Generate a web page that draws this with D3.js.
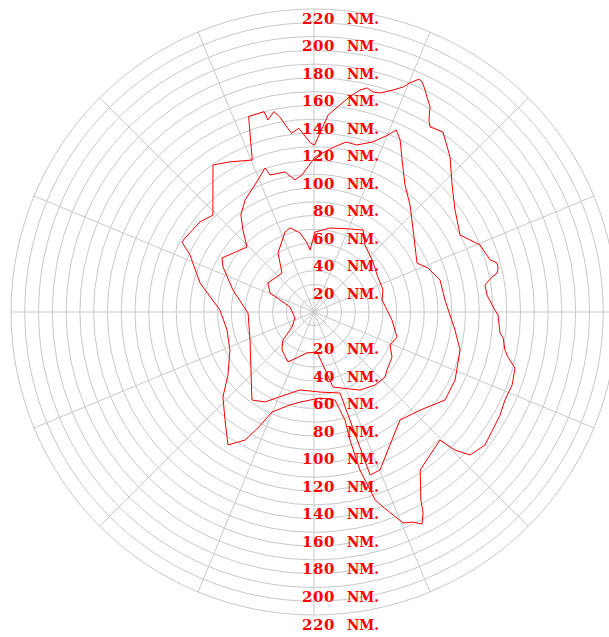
<!DOCTYPE html>
<html>
<head>
<meta charset="utf-8">
<script src="https://cdn.jsdelivr.net/npm/d3@7"></script>
<style>
  html, body { margin: 0; padding: 0; background: #ffffff; }
  svg { display: block; }
</style>
</head>
<body>
<svg id="chart" width="609" height="637"></svg>
<script>
// Range rings (NM) and labelled rings
const maxRange = 220;
const ringStep = 10;
const labelRanges = [20, 40, 60, 80, 100, 120, 140, 160, 180, 200, 220];
const unitText = "NM.";
const spokeStep = 22.5;

// Coverage contours: bearing (deg, clockwise from north) and range (NM), in drawing order
const outerBearing = [0.2, 4.1, 9.4, 11.7, 13.3, 15.0, 16.8, 19.6, 21.6, 22.7, 24.3, 25.2, 26.6, 27.7, 29.5, 30.9, 32.1, 35.6, 41.3, 47.4, 54.1, 62.2, 68.0, 73.5, 75.0, 76.6, 78.0, 78.9, 81.0, 84.4, 87.7, 89.4, 90.9, 96.4, 97.8, 101.3, 103.1, 105.6, 110.2, 114.7, 119.0, 122.0, 127.9, 132.5, 134.4, 135.5, 140.9, 146.1, 150.4, 151.5, 153.0, 154.8, 157.1, 158.7, 160.5, 162.0, 163.8, 164.3, 164.0, 166.6, 176.0, 188.8, 194.5, 202.8, 205.8, 208.3, 212.9, 219.5, 227.0, 233.8, 245.7, 258.3, 271.2, 284.3, 294.7, 297.9, 299.8, 308.3, 313.8, 325.5, 330.8, 337.9, 341.5, 346.0, 346.5, 348.7, 350.0, 352.8, 355.3, 358.9];
const outerRange = [121.3, 143.4, 158.5, 164.6, 167.2, 165.4, 166.1, 171.1, 175.7, 180.3, 185.6, 184.5, 180.2, 176.4, 171.1, 162.5, 158.6, 160.8, 149.7, 136.2, 126.4, 119.9, 130.0, 133.3, 137.6, 137.4, 135.9, 131.7, 125.7, 126.2, 129.4, 131.4, 133.6, 135.9, 138.6, 141.4, 144.6, 151.5, 153.3, 152.7, 154.4, 155.0, 157.3, 153.7, 143.3, 130.4, 133.7, 138.2, 157.1, 166.0, 172.8, 168.6, 166.3, 158.2, 150.2, 143.5, 119.5, 96.6, 81.6, 65.7, 62.6, 66.2, 69.7, 78.8, 93.5, 105.6, 115.0, 101.6, 90.4, 77.4, 67.0, 64.5, 68.3, 85.4, 99.1, 108.5, 108.0, 105.5, 101.7, 129.5, 124.9, 119.1, 149.6, 149.9, 143.4, 148.4, 144.0, 130.8, 133.8, 122.5];

const middleBearing = [0.4, 6.9, 10.7, 14.4, 19.1, 22.7, 24.3, 26.6, 30.1, 35.6, 41.9, 50.4, 64.6, 68.9, 75.7, 84.8, 97.3, 104.6, 115.7, 123.9, 132.8, 141.5, 150.3, 157.3, 161.0, 162.2, 175.7, 190.2, 199.3, 208.6, 215.2, 246.4, 269.1, 285.2, 296.3, 300.4, 314.1, 319.1, 323.0, 328.4, 337.0, 341.2, 342.2, 348.3, 351.8, 355.0];
const middleRange = [112.6, 120.7, 125.6, 125.2, 130.7, 139.3, 145.0, 139.7, 127.5, 113.5, 104.4, 93.4, 82.8, 88.7, 94.4, 95.5, 103.2, 109.6, 113.7, 114.6, 104.9, 100.3, 111.2, 124.3, 125.2, 61.8, 58.3, 57.5, 63.9, 74.4, 78.2, 50.7, 47.9, 61.0, 73.7, 77.5, 67.8, 78.8, 88.2, 95.5, 104.1, 110.5, 104.5, 103.8, 96.9, 99.9];

const innerBearing = [0.7, 10.8, 23.4, 30.9, 37.3, 49.7, 59.6, 72.3, 80.0, 88.4, 95.9, 106.8, 113.5, 120.0, 128.5, 132.5, 140.1, 149.5, 165.8, 175.7, 189.7, 207.5, 220.1, 228.0, 235.7, 252.5, 281.8, 293.4, 302.2, 320.6, 328.6, 340.1, 344.1, 350.0, 354.2, 356.3];
const innerRange = [58.1, 62.1, 65.7, 69.4, 61.1, 56.2, 53.1, 52.6, 50.2, 53.0, 56.9, 63.0, 60.2, 65.4, 67.7, 69.9, 69.1, 65.8, 56.2, 29.1, 30.2, 40.9, 36.1, 30.3, 19.3, 14.5, 17.8, 34.8, 39.5, 36.6, 50.2, 61.8, 63.5, 58.3, 50.4, 45.1];

const width = 609, height = 637;
const cx = 314, cy = 312, outerR = 303;

const svg = d3.select("#chart");
const g = svg.append("g").attr("transform", `translate(${cx},${cy})`);

const r = d3.scaleLinear().domain([0, maxRange]).range([0, outerR]);
const toRad = d => d * Math.PI / 180;

// grid: rings every 10 NM
const ringValues = d3.range(ringStep, maxRange + ringStep / 2, ringStep);
g.append("g").selectAll("circle")
  .data(ringValues)
  .join("circle")
  .attr("r", d => r(d))
  .attr("fill", "none")
  .attr("stroke", "#c8c8c8")
  .attr("stroke-width", 1);

// grid: spokes
const spokes = d3.range(0, 360, spokeStep);
g.append("g").selectAll("line")
  .data(spokes)
  .join("line")
  .attr("x1", 0).attr("y1", 0)
  .attr("x2", d => r(maxRange) * Math.sin(toRad(d)))
  .attr("y2", d => -r(maxRange) * Math.cos(toRad(d)))
  .attr("stroke", "#c8c8c8")
  .attr("stroke-width", 1);

// coverage contours
const radial = d3.lineRadial()
  .angle(d => toRad(d[0]))
  .radius(d => r(d[1]))
  .curve(d3.curveLinearClosed);

const contours = [
  d3.zip(outerBearing, outerRange),
  d3.zip(middleBearing, middleRange),
  d3.zip(innerBearing, innerRange)
];
g.append("g").selectAll("path")
  .data(contours)
  .join("path")
  .attr("d", radial)
  .attr("fill", "none")
  .attr("stroke", "#ff0000")
  .attr("stroke-width", 1)
  .attr("stroke-linejoin", "miter");

// range labels just below each labelled ring, above and below the centre
const numRight = 335 - cx, unitLeft = 347 - cx, baseOff = 14.5;
const labels = [];
labelRanges.forEach(n => {
  labels.push({ n, y: -r(n) + baseOff });
  labels.push({ n, y: r(n) + baseOff });
});
const lab = g.append("g")
  .attr("font-family", "'DejaVu Serif', serif")
  .attr("font-weight", "bold")
  .attr("font-size", 15)
  .attr("fill", "#ff0000");
const item = lab.selectAll("g")
  .data(labels)
  .join("g");
item.append("text")
  .attr("x", numRight)
  .attr("y", d => d.y)
  .attr("text-anchor", "end")
  .attr("letter-spacing", 0.6)
  .text(d => d.n);
item.append("text")
  .attr("x", unitLeft)
  .attr("y", d => d.y)
  .attr("text-anchor", "start")
  .attr("textLength", 32)
  .attr("lengthAdjust", "spacingAndGlyphs")
  .text(unitText);
</script>
</body>
</html>
